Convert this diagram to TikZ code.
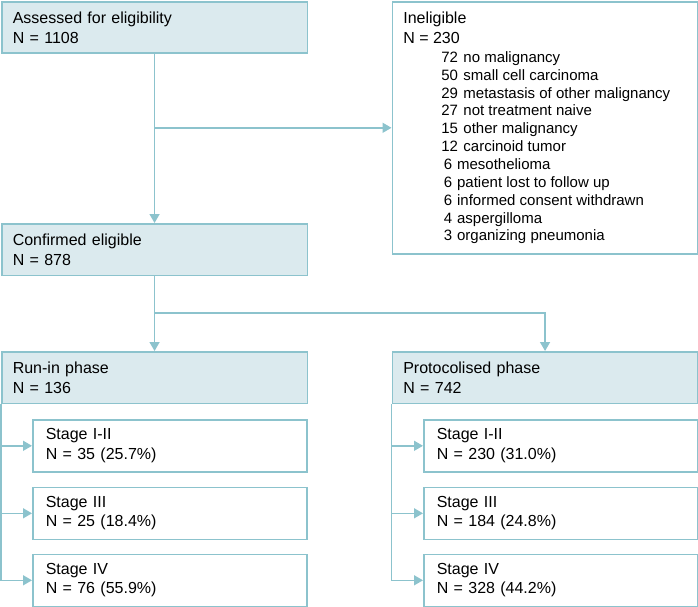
\documentclass[tikz,border=0pt]{standalone}
\usepackage{fontspec}
\setmainfont{Liberation Sans}
\usetikzlibrary{arrows.meta}
\definecolor{edgeblue}{HTML}{8CC3CD}
\definecolor{fillblue}{HTML}{DBEAEE}
\begin{document}
\begin{tikzpicture}[x=1pt,y=-1pt,
  box/.style={draw=edgeblue, line width=1.6pt, anchor=north west, align=left, inner ysep=0pt, font=\fontsize{16}{19.5}\selectfont},
  mainbox/.style={box, fill=fillblue, inner xsep=11pt, text width=283.5pt, minimum width=305.5pt, minimum height=51.5pt},
  stagebox/.style={box, fill=white, inner xsep=13pt, text width=248pt, minimum width=274pt, minimum height=52pt},
  conn/.style={draw=edgeblue, line width=1.5pt},
  arr/.style={conn, -{Triangle[length=9pt,width=10pt]}}]
\useasboundingbox (0,0) rectangle (698,607);

\node[mainbox] (assess) at (1,1) {Assessed for eligibility\\N = 1108};
\node[box, fill=white, inner sep=0pt] (inel) at (391.5,1) {\parbox[c][252pt][t]{305.5pt}{\leftskip=11pt\relax\fontsize{16}{20}\selectfont
\rule{0pt}{21.5pt}Ineligible\\
N = 230\par
\vspace{1.2pt}\leftskip=49pt\relax\fontsize{15}{17.85}\selectfont
72\hspace{5.5pt}no malignancy\\
50\hspace{5.5pt}small cell carcinoma\\
29\hspace{5.5pt}metastasis of other malignancy\\
27\hspace{5.5pt}not treatment naive\\
15\hspace{5.5pt}other malignancy\\
12\hspace{5.5pt}carcinoid tumor\\
\hspace*{2.5pt}6\hspace{5pt}mesothelioma\\
\hspace*{2.5pt}6\hspace{5pt}patient lost to follow up\\
\hspace*{2.5pt}6\hspace{5pt}informed consent withdrawn\\
\hspace*{2.5pt}4\hspace{5pt}aspergilloma\\
\hspace*{2.5pt}3\hspace{5pt}organizing pneumonia\par}};

\node[mainbox] (confirmed) at (1,223) {Confirmed eligible\\N = 878};
\node[mainbox] (runin) at (1,351) {Run-in phase\\N = 136};
\node[mainbox] (proto) at (391.5,351) {Protocolised phase\\N = 742};

\node[stagebox] (l1) at (32,419) {Stage I-II\\N = 35 (25.7\%)};
\node[stagebox] (l2) at (32,486.5) {Stage III\\N = 25 (18.4\%)};
\node[stagebox] (l3) at (32,553.5) {Stage IV\\N = 76 (55.9\%)};
\node[stagebox] (r1) at (423,419) {Stage I-II\\N = 230 (31.0\%)};
\node[stagebox] (r2) at (423,486.5) {Stage III\\N = 184 (24.8\%)};
\node[stagebox] (r3) at (423,553.5) {Stage IV\\N = 328 (44.2\%)};

\coordinate (split) at (153.75,313);

\draw[arr] (assess.south) -- (confirmed.north);
\draw[arr] (assess.south |- inel.west) -- (inel.west);
\draw[arr] (confirmed.south) -- (runin.north);
\draw[arr] (split) -| (proto.north);

\draw[arr] (runin.south west) |- (l3.west);
\draw[arr] (runin.south west |- l1.west) -- (l1.west);
\draw[arr] (runin.south west |- l2.west) -- (l2.west);
\draw[arr] (proto.south west) |- (r3.west);
\draw[arr] (proto.south west |- r1.west) -- (r1.west);
\draw[arr] (proto.south west |- r2.west) -- (r2.west);
\end{tikzpicture}
\end{document}
